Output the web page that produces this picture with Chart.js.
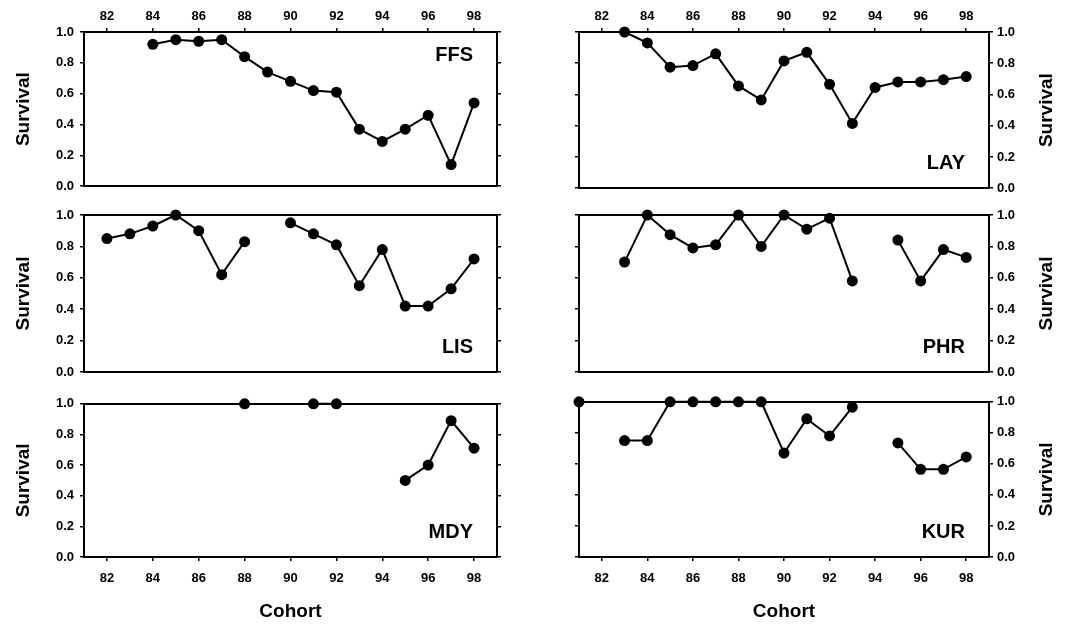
<!DOCTYPE html>
<html>
<head>
<meta charset="utf-8">
<script src="https://cdn.jsdelivr.net/npm/chart.js@4.4.0/dist/chart.umd.min.js"></script>
<style>
  body { margin: 0; background: #fff; }
  #wrap { position: relative; width: 1088px; height: 627px; background: #fff; }
  #wrap canvas { position: absolute; }
</style>
</head>
<body>
<div id="wrap">
  <canvas id="ffs" width="540" height="200" style="left:0;top:0"></canvas>
  <canvas id="lay" width="548" height="200" style="left:540px;top:0"></canvas>
  <canvas id="lis" width="540" height="190" style="left:0;top:200px"></canvas>
  <canvas id="phr" width="548" height="190" style="left:540px;top:200px"></canvas>
  <canvas id="mdy" width="540" height="237" style="left:0;top:390px"></canvas>
  <canvas id="kur" width="548" height="237" style="left:540px;top:390px"></canvas>
</div>
<script>
// cohorts and tick labels
let cohorts = [81, 82, 83, 84, 85, 86, 87, 88, 89, 90, 91, 92, 93, 94, 95, 96, 97, 98];
let xTicks = [82, 84, 86, 88, 90, 92, 94, 96, 98];
let yTicks = [0, 0.2, 0.4, 0.6, 0.8, 1.0];
let yTitle = "Survival";
let xTitle = "Cohort";

// survival by cohort, null = no data
let ffs = [null, null, null, 0.92, 0.95, 0.94, 0.95, 0.84, 0.74, 0.68, 0.62, 0.61, 0.37, 0.29, 0.37, 0.46, 0.14, 0.54];
let lay = [null, null, 1.0, 0.93, 0.775, 0.785, 0.86, 0.655, 0.565, 0.815, 0.87, 0.665, 0.415, 0.645, 0.68, 0.68, 0.695, 0.715];
let lis = [null, 0.85, 0.88, 0.93, 1.0, 0.9, 0.62, 0.83, null, 0.95, 0.88, 0.81, 0.55, 0.78, 0.42, 0.42, 0.53, 0.72];
let phr = [null, null, 0.7, 1.0, 0.875, 0.79, 0.81, 1.0, 0.8, 1.0, 0.91, 0.98, 0.58, null, 0.84, 0.58, 0.78, 0.73];
let mdy = [null, null, null, null, null, null, null, 1.0, null, null, 1.0, 1.0, null, null, 0.5, 0.6, 0.89, 0.71];
let kur = [1.0, null, 0.75, 0.75, 1.0, 1.0, 1.0, 1.0, 1.0, 0.67, 0.89, 0.78, 0.965, null, 0.735, 0.565, 0.565, 0.645];

let panels = [
  { id: "ffs", name: "FFS", values: ffs, col: 0, row: 0, labelTop: true },
  { id: "lay", name: "LAY", values: lay, col: 1, row: 0 },
  { id: "lis", name: "LIS", values: lis, col: 0, row: 1 },
  { id: "phr", name: "PHR", values: phr, col: 1, row: 1 },
  { id: "mdy", name: "MDY", values: mdy, col: 0, row: 2 },
  { id: "kur", name: "KUR", values: kur, col: 1, row: 2 },
];

// axis box sizes so the plot areas line up
let colSize = [
  { left: 84, right: 43, titleX: 24 },
  { left: 39, right: 99, titleX: 507 },
];
let rowSize = [
  { top: 32, bottom: 10 },
  { top: 15, bottom: 18 },
  { top: 9, bottom: 70 },
];

let fontFamily = "'Liberation Sans', Arial, sans-serif";
let tickFont = { family: fontFamily, size: 13, weight: "bold" };

let fixWidth = (w) => (scale) => { scale.width = w; };
let fixHeight = (h) => (scale) => { scale.height = h; };

let panelText = {
  id: "panelText",
  afterDraw(chart) {
    let p = chart.config.options.panel;
    let ctx = chart.ctx;
    let area = chart.chartArea;
    ctx.save();
    ctx.fillStyle = "#000";
    // site label
    ctx.font = "bold 20px " + fontFamily;
    ctx.textAlign = "right";
    ctx.textBaseline = "middle";
    let ly = p.labelTop ? area.top + 23 : area.bottom - 25;
    ctx.fillText(p.name, area.right - 24, ly);
    // y title
    ctx.font = "bold 19px " + fontFamily;
    ctx.textAlign = "center";
    ctx.translate(colSize[p.col].titleX, (area.top + area.bottom) / 2);
    ctx.rotate(-Math.PI / 2);
    ctx.fillText(yTitle, 0, 0);
    ctx.restore();
    // x title under bottom row
    if (p.row === 2) {
      ctx.save();
      ctx.fillStyle = "#000";
      ctx.font = "bold 19px " + fontFamily;
      ctx.textAlign = "center";
      ctx.textBaseline = "middle";
      ctx.fillText(xTitle, (area.left + area.right) / 2, 222);
      ctx.restore();
    }
  },
};

let makePanel = (p) => {
  let cs = colSize[p.col];
  let rs = rowSize[p.row];
  let leftSide = p.col === 0;

  let xAxis = (position, labelled, h) => ({
    type: "linear",
    position: position,
    axis: "x",
    min: 81,
    max: 99,
    afterBuildTicks: (s) => { s.ticks = xTicks.map((v) => ({ value: v })); },
    afterFit: fixHeight(h),
    ticks: { display: labelled, color: "#000", font: tickFont, padding: position === "top" ? 4 : 10, maxRotation: 0 },
    grid: { drawOnChartArea: false, drawTicks: labelled, tickLength: 4, color: "#000", lineWidth: 1.5 },
    border: { display: true, color: "#000", width: 2 },
  });

  let yAxis = (position, labelled, w) => ({
    type: "linear",
    position: position,
    axis: "y",
    min: 0,
    max: 1,
    afterBuildTicks: (s) => { s.ticks = yTicks.map((v) => ({ value: v })); },
    afterFit: fixWidth(w),
    ticks: { display: labelled, color: "#000", font: tickFont, padding: leftSide ? 6 : 4, callback: (v) => Number(v).toFixed(1) },
    grid: { drawOnChartArea: false, drawTicks: true, tickLength: 4, color: "#000", lineWidth: 1.5 },
    border: { display: true, color: "#000", width: 2 },
  });

  new Chart(document.getElementById(p.id), {
    type: "line",
    data: {
      datasets: [
        {
          data: cohorts.map((c, i) => ({ x: c, y: p.values[i] })),
          xAxisID: "x",
          yAxisID: "y",
          borderColor: "#000",
          backgroundColor: "#000",
          borderWidth: 2,
          pointRadius: 5.5,
          pointHoverRadius: 5.5,
          pointBorderWidth: 0,
          spanGaps: false,
          clip: false,
        },
      ],
    },
    options: {
      panel: p,
      responsive: false,
      animation: false,
      events: [],
      layout: { padding: 0 },
      plugins: { legend: { display: false }, tooltip: { enabled: false } },
      scales: {
        x: xAxis("bottom", p.row === 2, rs.bottom),
        x2: xAxis("top", p.row === 0, rs.top),
        y: yAxis(leftSide ? "left" : "right", true, leftSide ? cs.left : cs.right),
        y2: yAxis(leftSide ? "right" : "left", false, leftSide ? cs.right : cs.left),
      },
    },
    plugins: [panelText],
  });
};

panels.forEach(makePanel);
</script>
</body>
</html>
